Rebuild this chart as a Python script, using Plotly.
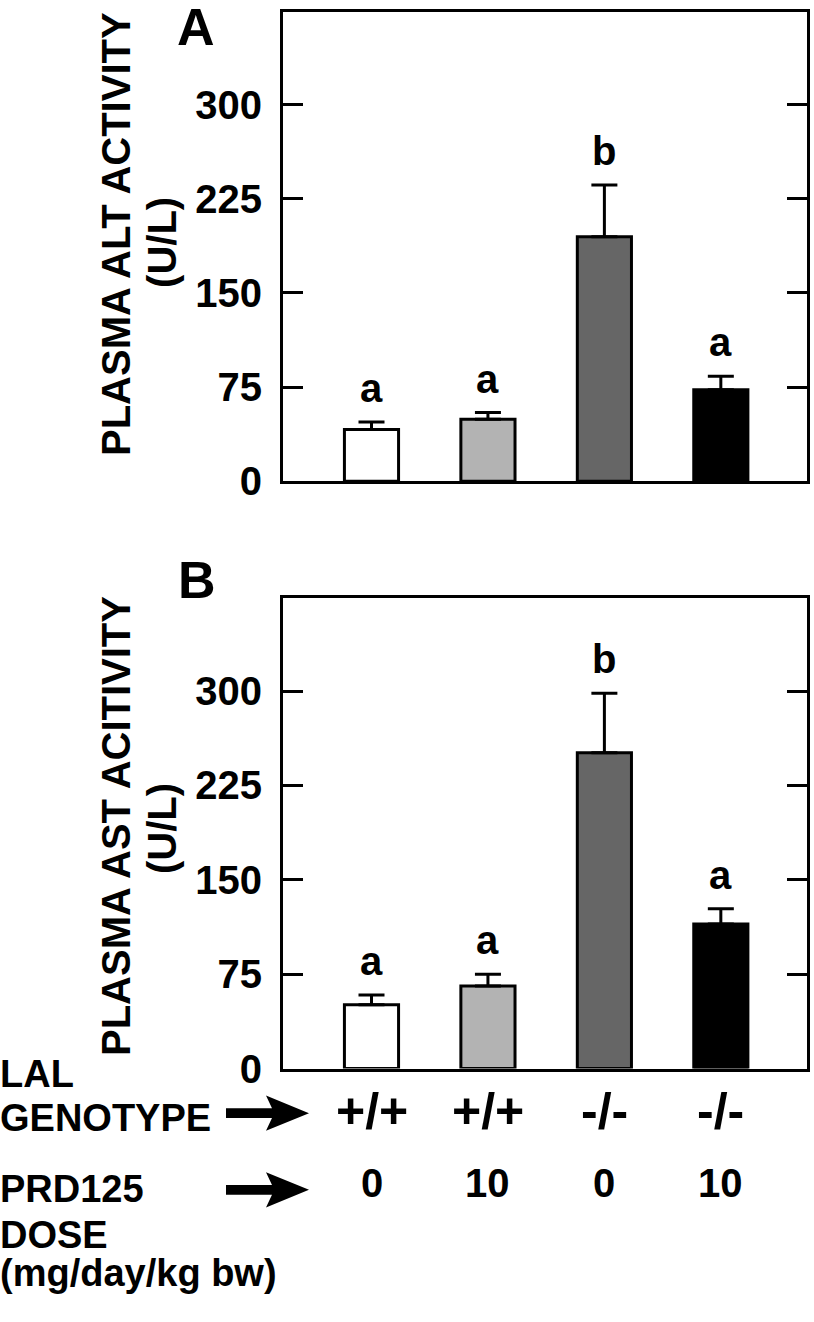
import plotly.graph_objects as go

# ---------------- data ----------------
genotype = ["+/+", "+/+", "-/-", "-/-"]
dose = ["0", "10", "0", "10"]
bar_colors = ["#ffffff", "#b3b3b3", "#666666", "#000000"]

alt_mean = [41.1, 49.4, 194.8, 72.9]
alt_sem = [6.0, 5.3, 41.2, 10.7]
alt_letters = ["a", "a", "b", "a"]

ast_mean = [50.6, 65.5, 251.0, 114.8]
ast_sem = [7.8, 9.4, 47.3, 12.2]
ast_letters = ["a", "a", "b", "a"]

y_ticks = [0, 75, 150, 225, 300]

# ---------------- layout helpers ----------------
W, H = 814, 1322
FONT = "Liberation Sans, Arial, Helvetica, sans-serif"


def px(x):
    return x / W


def py(y):
    return 1 - y / H


def bold(s):
    return dict(family=FONT, size=s, color="black", weight="bold")


xs = list(range(len(genotype)))

fig = go.Figure()

panels = [
    (alt_mean, alt_sem, alt_letters, "x", "y"),
    (ast_mean, ast_sem, ast_letters, "x2", "y2"),
]
for mean, sem, letters, xa, ya in panels:
    fig.add_trace(go.Bar(
        x=xs, y=mean, width=0.465,
        marker=dict(color=bar_colors, line=dict(color="black", width=3)),
        error_y=dict(type="data", array=sem, arrayminus=[0] * len(sem),
                     symmetric=False, color="black", thickness=3, width=13),
        xaxis=xa, yaxis=ya, hoverinfo="skip",
    ))
    for i, (m, s, t) in enumerate(zip(mean, sem, letters)):
        fig.add_annotation(x=xs[i], y=m + s, xref=xa, yref=ya, text=t,
                           showarrow=False, xanchor="center", yanchor="middle",
                           yshift=34, font=bold(40))

axis_common_x = dict(range=[-0.76, 3.74], showline=True, linewidth=3, linecolor="black",
                     mirror=True, ticks="", showticklabels=False, showgrid=False,
                     zeroline=False, fixedrange=True)
axis_common_y = dict(range=[0, 374], tickvals=y_ticks, ticks="inside", ticklen=20,
                     tickwidth=3, tickcolor="black", showline=True, linewidth=3,
                     linecolor="black", mirror="ticks", showgrid=False, zeroline=False,
                     ticklabelstandoff=10, tickfont=bold(40))

fig.update_layout(
    width=W, height=H, autosize=False,
    margin=dict(l=0, r=0, t=0, b=0, pad=0),
    paper_bgcolor="white", plot_bgcolor="white",
    showlegend=False,
    xaxis=dict(domain=[px(283), px(807)], anchor="y", **axis_common_x),
    yaxis=dict(domain=[py(489.3), py(12)], anchor="x", **axis_common_y),
    xaxis2=dict(domain=[px(283), px(807)], anchor="y2", **axis_common_x),
    yaxis2=dict(domain=[py(1086.6), py(608)], anchor="x2", **axis_common_y),
)


def note(x, y, text, size, angle=0, xanchor="center"):
    fig.add_annotation(x=px(x), y=py(y), xref="paper", yref="paper", text=text,
                       textangle=angle, showarrow=False, xanchor=xanchor,
                       yanchor="middle", font=bold(size))


# panel letters
note(196, 27, "A", 52)
note(197, 590, "B", 52)

# y-axis titles
titles = [("PLASMA ALT ACTIVITY", 238, 247), ("PLASMA AST ACITIVITY", 840, 843)]
for t, yc1, yc2 in titles:
    note(116, yc1, t, 40, angle=-90)
    note(162, yc2, "(U/L)", 40, angle=-90)

# bottom row labels
left_labels = [("LAL", 1092), ("GENOTYPE", 1136.5), ("PRD125", 1209), ("DOSE", 1256),
               ("(mg/day/kg bw)", 1295)]
for t, yc in left_labels:
    note(-2, yc, t, 38, xanchor="left")

for i in xs:
    fig.add_annotation(x=xs[i], y=py(1130), xref="x2", yref="paper", text=genotype[i],
                       showarrow=False, xanchor="center", yanchor="middle", font=bold(50))
    fig.add_annotation(x=xs[i], y=py(1203), xref="x2", yref="paper", text=dose[i],
                       showarrow=False, xanchor="center", yanchor="middle", font=bold(40))


# arrows
def arrow_path(yc):
    pts = [(226, yc - 5), (272, yc - 5), (266, yc - 18), (309, yc), (266, yc + 18),
           (272, yc + 5), (226, yc + 5)]
    return "M " + " L ".join(f"{px(a):.5f},{py(b):.5f}" for a, b in pts) + " Z"


for yc in (1132, 1210):
    fig.add_shape(type="path", path=arrow_path(yc), xref="paper", yref="paper",
                  fillcolor="black", line=dict(color="black", width=0))

fig.write_html("out.html",
               config={"displayModeBar": False, "responsive": False},
               post_script="document.body.style.margin='0';")
